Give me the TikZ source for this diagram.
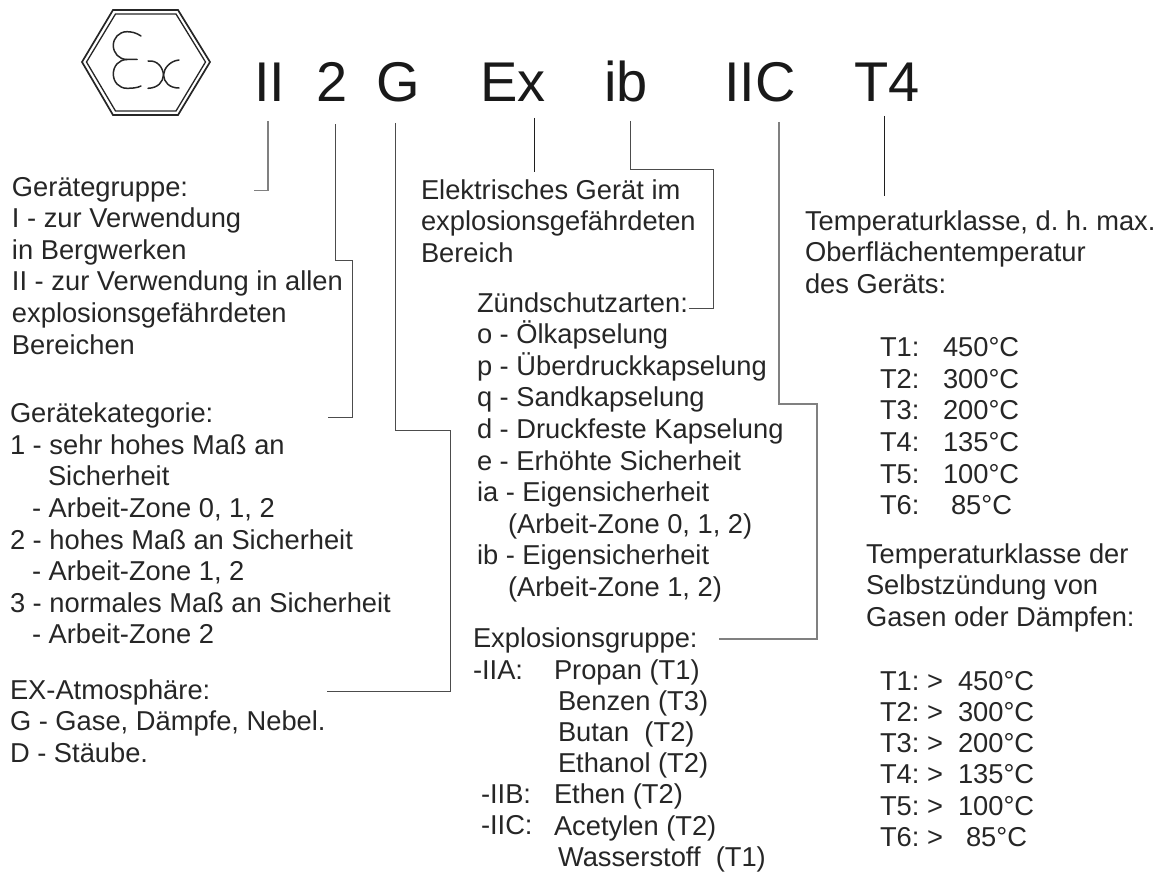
\documentclass[tikz,border=0pt]{standalone}
\usepackage{fontspec}
\setmainfont{Liberation Sans}
\frenchspacing
\newcommand{\fl}{\leavevmode\rule{0pt}{22pt}}
\tikzset{
  txt/.style={anchor=north west,inner sep=0pt,outer sep=0pt,align=left,text=black!85,font=\fontsize{27.3}{31.6}\selectfont},
  big/.style={anchor=base west,inner sep=0pt,outer sep=0pt,text=black!90,font=\fontsize{56}{60}\selectfont},
  conn/.style={draw=black!70,line width=1pt},
  connlight/.style={draw=black!50,line width=1.1pt},
  conndark/.style={draw=black!88,line width=1pt},
  sym/.style={draw=black!85,line width=1.5pt,line cap=round}
}
\begin{document}
\begin{tikzpicture}[x=1pt,y=-1pt]
\useasboundingbox (0,0) rectangle (1166,872);
% Ex hexagon
\draw[draw=black!85,line width=1.7pt,line join=miter] (82,62)--(113,10)--(178,10)--(210,62)--(178,115)--(113,115)--cycle;
\draw[draw=black!85,line width=1.3pt,line join=miter] (86.5,62)--(115.5,14)--(176,14)--(205.5,62)--(176,111)--(115.5,111)--cycle;
\draw[sym] (141,36) .. controls (136,32.5) and (131,31.7) .. (127,31.7) .. controls (119,31.7) and (113.3,38) .. (113.3,45.5) .. controls (113.3,53) and (119,59.5) .. (127,59.5) -- (137,59.5);
\draw[sym] (127,59.5) .. controls (119,59.5) and (113.3,66) .. (113.3,74) .. controls (113.3,82) and (119,88.3) .. (127,88.3) .. controls (132,88.3) and (137,88) .. (141,86);
\draw[sym] (148,61) .. controls (158,60) and (163,68) .. (163.5,75) .. controls (164,82) and (169,88) .. (179,88);
\draw[sym] (148,88.3) .. controls (158,88) and (163,82) .. (163.5,75) .. controls (164,68) and (170,61) .. (179,60);
% title
\node[big] (tII) at (254,102) {II};
\node[big] (t2) at (316,102) {2};
\node[big] (tG) at (376,102) {G};
\node[big] (tEx) at (480,102) {Ex};
\node[big] (tib) at (604,102) {ib};
\node[big] (tIIC) at (724,102) {IIC};
\node[big] (tT4) at (854,102) {T4};
% left column
\node[txt] (gruppe) at (12,174) {\fl Gerätegruppe:\\I - zur Verwendung\\in Bergwerken\\II - zur Verwendung in allen\\explosionsgefährdeten\\Bereichen};
\node[txt] (kat) at (10,400.7) {\fl Gerätekategorie:\\1 - sehr hohes Maß an\\\hspace*{38pt}Sicherheit\\\hspace*{22pt}- Arbeit-Zone 0, 1, 2\\2 - hohes Maß an Sicherheit\\\hspace*{22pt}- Arbeit-Zone 1, 2\\3 - normales Maß an Sicherheit\\\hspace*{22pt}- Arbeit-Zone 2};
\node[txt] (atm) at (10,677) {\fl EX-Atmosphäre:\\G - Gase, Dämpfe, Nebel.\\D - Stäube.};
% middle
\node[txt] (elek) at (421,177) {\fl Elektrisches Gerät im\\explosionsgefährdeten\\Bereich};
\node[txt] (zuend) at (477,290) {\fl Zündschutzarten:\\o - Ölkapselung\\p - Überdruckkapselung\\q - Sandkapselung\\d - Druckfeste Kapselung\\e - Erhöhte Sicherheit\\ia - Eigensicherheit\\\hspace*{31pt}(Arbeit-Zone 0, 1, 2)\\ib - Eigensicherheit\\\hspace*{31pt}(Arbeit-Zone 1, 2)};
\node[txt] (gruppeX) at (473,625) {\fl Explosionsgruppe:};
\node[txt] (iia) at (473,657) {\fl -IIA:};
\node[txt] (iib) at (481,781.5) {\fl -IIB:};
\node[txt] (iic) at (481,812.7) {\fl -IIC:};
\node[txt,font=\fontsize{27.3}{31.2}\selectfont] (gase) at (554,657) {\fl Propan (T1)\\\hspace*{4pt}Benzen (T3)\\\hspace*{4pt}Butan\ \ (T2)\\\hspace*{4pt}Ethanol (T2)\\Ethen (T2)\\Acetylen (T2)\\\hspace*{4pt}Wasserstoff\ \ (T1)};
% right
\node[txt] (tk) at (805,208) {\fl Temperaturklasse, d. h. max.\\Oberflächentemperatur\\des Geräts:};
\node[txt] (tl1) at (880,334.7) {\fl T1:\\T2:\\T3:\\T4:\\T5:\\T6:};
\node[txt] (tv1) at (943,334.7) {\fl 450°C\\300°C\\200°C\\135°C\\100°C\\\hspace*{8pt}85°C};
\node[txt] (tk2) at (866,541) {\fl Temperaturklasse der\\Selbstzündung von\\Gasen oder Dämpfen:};
\node[txt,font=\fontsize{27.3}{31.3}\selectfont] (tl2) at (880,668) {\fl T1: >\\T2: >\\T3: >\\T4: >\\T5: >\\T6: >};
\node[txt,font=\fontsize{27.3}{31.3}\selectfont] (tv2) at (958,668) {\fl 450°C\\300°C\\200°C\\135°C\\100°C\\\hspace*{8pt}85°C};
% connector points
\coordinate (a1) at (268,121); \coordinate (a2) at (254,190.5);
\coordinate (b1) at (335,124); \coordinate (b2) at (352,260); \coordinate (b3) at (328,417);
\coordinate (c1) at (395,123); \coordinate (c2) at (450,430); \coordinate (c3) at (327,691);
\coordinate (d1) at (534,118); \coordinate (d2) at (534,172);
\coordinate (e1) at (630,121); \coordinate (e2) at (713,169); \coordinate (e3) at (689,308);
\coordinate (f1) at (779,122); \coordinate (f2) at (817,404); \coordinate (f3) at (719,639);
\coordinate (g1) at (884,116); \coordinate (g2) at (884,196);
\draw[connlight] (a1) |- (a2);
\draw[conn] (b1) |- (b2) |- (b3);
\draw[conn] (c1) |- (c2) |- (c3);
\draw[conndark] (d1) -- (d2);
\draw[conn] (e1) |- (e2) |- (e3);
\draw[connlight] (f1) |- (f2) |- (f3);
\draw[conndark] (g1) -- (g2);
\end{tikzpicture}
\end{document}
